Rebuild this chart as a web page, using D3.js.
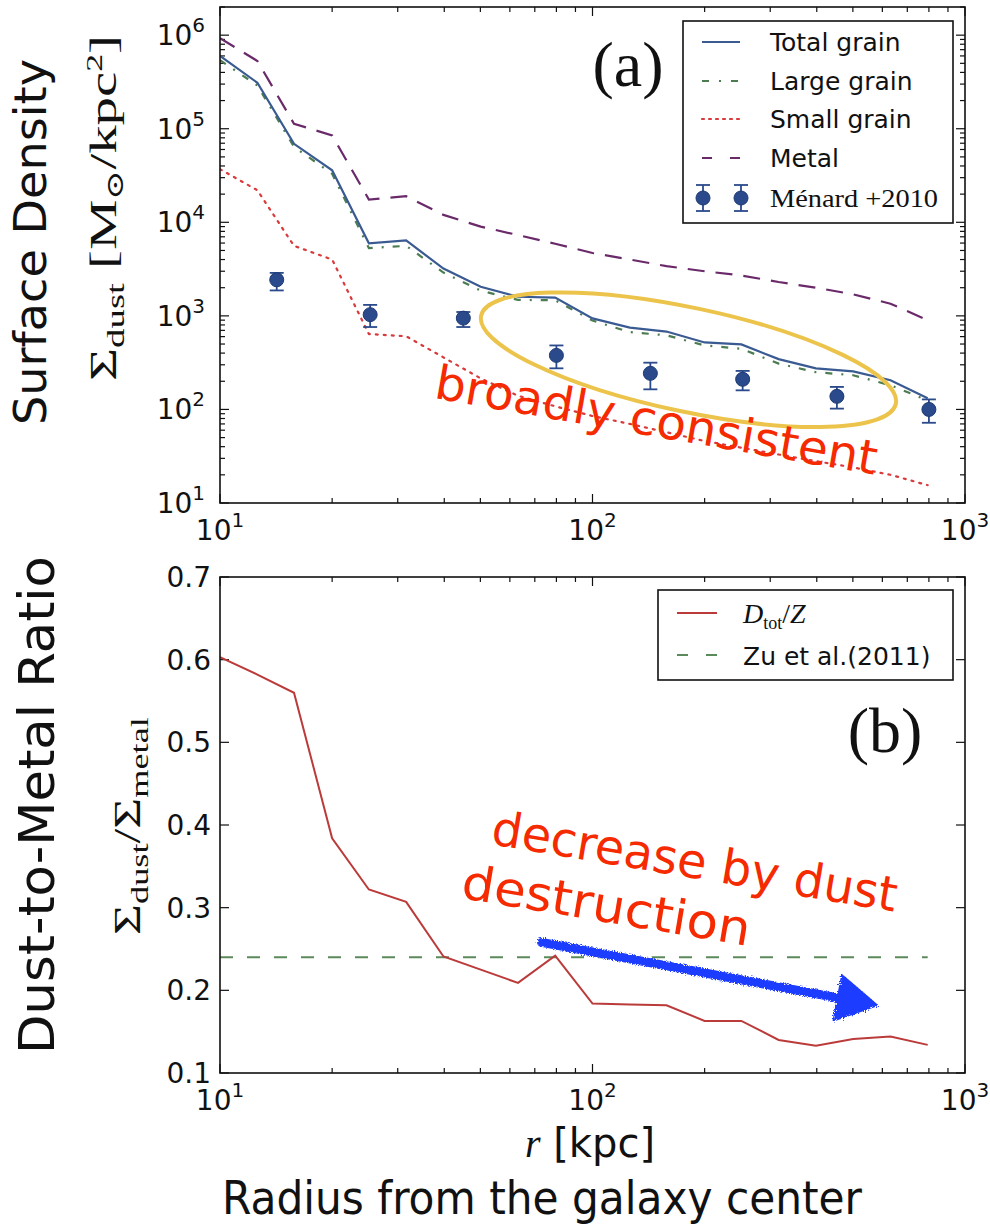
<!DOCTYPE html>
<html><head><meta charset="utf-8">
<script src="https://cdn.jsdelivr.net/npm/d3@7"></script>
<style>body{margin:0;background:#fff} svg{display:block}</style>
</head><body>
<svg id="c" width="990" height="1229"></svg>
<script>
// ---------------- data ----------------
const radius = [10, 12.6, 15.8, 20, 25.1, 31.6, 39.8, 50.1, 63.1, 79.4, 100, 126, 158, 200, 251, 316, 398, 501, 631, 794];
const totalGrain = [6.0e5, 3.1e5, 6.9e4, 3.6e4, 5.96e3, 6.4e3, 3.2e3, 2.05e3, 1.6e3, 1.57e3, 940, 750, 680, 520, 495, 345, 275, 255, 205, 132];
const largeGrain = [5.4e5, 2.9e5, 6.4e4, 3.3e4, 5.3e3, 5.6e3, 2.9e3, 1.86e3, 1.48e3, 1.47e3, 890, 670, 620, 483, 445, 309, 250, 232, 181, 125];
const smallGrain = [3.7e4, 2.2e4, 5.6e3, 4.0e3, 640, 605, 360, 215, 140, 108, 85, 70, 57, 46, 39, 33, 28, 24, 20, 15.5];
const metal = [9.3e5, 5.3e5, 1.13e5, 8.5e4, 1.75e4, 1.9e4, 1.2e4, 9.0e3, 7.3e3, 5.9e3, 4.7e3, 4.0e3, 3.4e3, 3.0e3, 2.7e3, 2.3e3, 2.0e3, 1.7e3, 1.35e3, 900];
const menardR = [14.2, 25.3, 45, 80, 143, 253, 453, 800];
const menardVal = [2430, 1030, 946, 378, 243, 210, 138, 100];
const menardLo = [1870, 760, 760, 275, 164, 160, 102, 72];
const menardHi = [2880, 1310, 1100, 483, 316, 258, 174, 128];
const dustToMetal = [0.603, 0.582, 0.56, 0.384, 0.322, 0.307, 0.241, 0.225, 0.209, 0.242, 0.184, 0.183, 0.182, 0.163, 0.163, 0.14, 0.133, 0.141, 0.144, 0.134];
const zuRatio = 0.24;
const legendA = ["Total grain", "Large grain", "Small grain", "Metal", "Ménard +2010"];
const legendB = ["Zu et al.(2011)"];
const yTicksB = [0.1, 0.2, 0.3, 0.4, 0.5, 0.6, 0.7];

// ---------------- setup ----------------
const svg = d3.select('#c');
const X0 = 220, X1 = 965;
const A_TOP = 7, A_BOT = 503, B_TOP = 577, B_BOT = 1073;
const x = d3.scaleLog().domain([10, 1000]).range([X0, X1]);
const yA = d3.scaleLog().domain([10, 2e6]).range([A_BOT, A_TOP]);
const yB = d3.scaleLinear().domain([0.1, 0.7]).range([B_BOT, B_TOP]);

const SANS = "'DejaVu Sans', Verdana, sans-serif";
const SERIF = "'Liberation Serif', 'DejaVu Serif', serif";
const C = {total:'#3a5a92', large:'#4c7c50', small:'#d93a3c', metal:'#6a2a6a', menard:'#2a4a8c',
           dz:'#bb3a3a', zu:'#5b8a5b', red:'#f52a00', yellow:'#ecc44c', arrow:'#1e3cff', ink:'#111'};

const defs = svg.append('defs');
const f = defs.append('filter').attr('id','rough').attr('x','-10%').attr('y','-40%').attr('width','120%').attr('height','180%');
f.append('feTurbulence').attr('type','fractalNoise').attr('baseFrequency',0.9).attr('numOctaves',2).attr('result','n');
f.append('feDisplacementMap').attr('in','SourceGraphic').attr('in2','n').attr('scale',6);
['clipA','clipB'].forEach((id,i)=>{
  defs.append('clipPath').attr('id',id).append('rect').attr('x',X0).attr('y',i?B_TOP:A_TOP)
    .attr('width',X1-X0).attr('height',i?B_BOT-B_TOP:A_BOT-A_TOP);
});

const isMajor = v => Math.abs(Math.log10(v) - Math.round(Math.log10(v))) < 1e-9;
const MAJ = 9, MIN = 5;
const TFS = 28, SFS = 20;

function xTicks(top, bot){
  const g = svg.append('g').attr('stroke', C.ink).attr('stroke-width', 1.2);
  const t = x.ticks();
  g.selectAll('.b').data(t).join('line').attr('x1', d=>x(d)).attr('x2', d=>x(d))
    .attr('y1', bot).attr('y2', d=>bot-(isMajor(d)?MAJ:MIN));
  g.selectAll('.t').data(t).join('line').attr('x1', d=>x(d)).attr('x2', d=>x(d))
    .attr('y1', top).attr('y2', d=>top+(isMajor(d)?MAJ:MIN));
  const lab = svg.append('g').attr('font-family', SANS).attr('fill', C.ink);
  t.filter(isMajor).forEach(v=>{
    const tx = lab.append('text').attr('x', x(v)).attr('y', bot+37).attr('text-anchor','middle').attr('font-size',TFS);
    tx.append('tspan').text('10');
    tx.append('tspan').attr('font-size',SFS).attr('dy',-13).text(Math.round(Math.log10(v)));
  });
}
function frame(top, bot){
  svg.append('rect').attr('x',X0).attr('y',top).attr('width',X1-X0).attr('height',bot-top)
    .attr('fill','none').attr('stroke',C.ink).attr('stroke-width',1.6);
}

// ---------------- panel (a) ----------------
{
  const g = svg.append('g').attr('stroke', C.ink).attr('stroke-width', 1.2);
  const t = yA.ticks();
  g.selectAll('.l').data(t).join('line').attr('x1', X0).attr('x2', d=>X0+(isMajor(d)?MAJ:MIN)).attr('y1', d=>yA(d)).attr('y2', d=>yA(d));
  g.selectAll('.r').data(t).join('line').attr('x1', X1).attr('x2', d=>X1-(isMajor(d)?MAJ:MIN)).attr('y1', d=>yA(d)).attr('y2', d=>yA(d));
  const lab = svg.append('g').attr('font-family', SANS).attr('fill', C.ink);
  t.filter(isMajor).forEach(v=>{
    const tx = lab.append('text').attr('x', 205).attr('y', yA(v)+10).attr('text-anchor','end').attr('font-size',TFS);
    tx.append('tspan').text('10');
    tx.append('tspan').attr('font-size',SFS).attr('dy',-13).text(Math.round(Math.log10(v)));
  });
  xTicks(A_TOP, A_BOT);

  const series = [
    {v: metal, c: C.metal, dash: '17,11', w: 2.2},
    {v: smallGrain, c: C.small, dash: '2,6', w: 2.2},
    {v: largeGrain, c: C.large, dash: '7,9,2,9', w: 2.2},
    {v: totalGrain, c: C.total, dash: null, w: 2.2},
  ];
  const line = d3.line().x(d=>x(d[0])).y(d=>yA(d[1]));
  const pg = svg.append('g').attr('clip-path','url(#clipA)');
  series.forEach(s=>{
    pg.append('path').attr('d', line(radius.map((r,i)=>[r, s.v[i]]))).attr('fill','none')
      .attr('stroke', s.c).attr('stroke-width', s.w).attr('stroke-dasharray', s.dash)
      .attr('stroke-linecap', s.dash==='2,6' ? 'round' : 'butt');
  });
  // Ménard points
  const mg = svg.append('g').attr('stroke', C.menard).attr('stroke-width', 1.8);
  menardR.forEach((r,i)=>{
    const cx = x(r);
    mg.append('line').attr('x1',cx).attr('x2',cx).attr('y1',yA(menardLo[i])).attr('y2',yA(menardHi[i]));
    [menardLo[i], menardHi[i]].forEach(v=> mg.append('line').attr('x1',cx-7).attr('x2',cx+7).attr('y1',yA(v)).attr('y2',yA(v)));
    mg.append('circle').attr('cx',cx).attr('cy',yA(menardVal[i])).attr('r',7).attr('fill',C.menard).attr('stroke','#1d3a72').attr('stroke-width',1);
  });
  frame(A_TOP, A_BOT);

  // annotations
  const ecx = x(181), ecy = yA(340);
  svg.append('ellipse').attr('cx',ecx).attr('cy',ecy).attr('rx',212).attr('ry',52)
    .attr('transform',`rotate(12,${ecx},${ecy})`).attr('fill','none').attr('stroke',C.yellow).attr('stroke-width',4);
  const bx = x(37.3), by = yA(133);
  svg.append('text').attr('transform',`translate(${bx},${by}) rotate(9.9)`).attr('font-family',SANS)
    .attr('font-size',47).attr('fill',C.red).attr('textLength',448).attr('lengthAdjust','spacingAndGlyphs').text('broadly consistent');
  svg.append('text').attr('x',628).attr('y',86).attr('text-anchor','middle').attr('font-family',SERIF)
    .attr('font-size',64).attr('fill',C.ink).text('(a)');

  // legend (a)
  const L = svg.append('g');
  L.append('rect').attr('x',683).attr('y',21).attr('width',270).attr('height',202).attr('fill','#fff').attr('stroke',C.ink).attr('stroke-width',1.6);
  const rows = [42, 81, 119, 158, 198];
  const sty = [[C.total,null],[C.large,'7,10,2,10'],[C.small,'2,5'],[C.metal,'10,18']];
  sty.forEach((s,i)=>{
    L.append('line').attr('x1',702).attr('x2',740).attr('y1',rows[i]).attr('y2',rows[i]).attr('stroke',s[0])
      .attr('stroke-width',2.2).attr('stroke-dasharray',s[1]).attr('stroke-linecap', i===2?'round':'butt');
    L.append('text').attr('x',770).attr('y',rows[i]+9).attr('font-family',SANS).attr('font-size',25).attr('fill',C.ink).text(legendA[i]);
  });
  [703, 741].forEach(cx=>{
    const yy = rows[4];
    const gg = L.append('g').attr('stroke',C.menard).attr('stroke-width',1.8);
    gg.append('line').attr('x1',cx).attr('x2',cx).attr('y1',yy-13).attr('y2',yy+13);
    gg.append('line').attr('x1',cx-7).attr('x2',cx+7).attr('y1',yy-13).attr('y2',yy-13);
    gg.append('line').attr('x1',cx-7).attr('x2',cx+7).attr('y1',yy+13).attr('y2',yy+13);
    gg.append('circle').attr('cx',cx).attr('cy',yy).attr('r',7).attr('fill',C.menard).attr('stroke','#1d3a72').attr('stroke-width',1);
  });
  L.append('text').attr('x',770).attr('y',rows[4]+9).attr('font-family',SERIF).attr('font-size',26).attr('fill',C.ink)
    .attr('textLength',168).attr('lengthAdjust','spacingAndGlyphs').text(legendA[4]);
}

// ---------------- panel (b) ----------------
{
  const g = svg.append('g').attr('stroke', C.ink).attr('stroke-width', 1.2);
  g.selectAll('.l').data(yTicksB).join('line').attr('x1', X0).attr('x2', X0+MAJ).attr('y1', d=>yB(d)).attr('y2', d=>yB(d));
  g.selectAll('.r').data(yTicksB).join('line').attr('x1', X1).attr('x2', X1-MAJ).attr('y1', d=>yB(d)).attr('y2', d=>yB(d));
  svg.append('g').attr('font-family', SANS).attr('fill', C.ink).selectAll('text').data(yTicksB).join('text')
    .attr('x', 211).attr('y', d=>yB(d)+10).attr('text-anchor','end').attr('font-size',TFS).text(d=>d.toFixed(1));
  xTicks(B_TOP, B_BOT);

  const pg = svg.append('g').attr('clip-path','url(#clipB)');
  pg.append('line').attr('x1', X0).attr('x2', x(radius[radius.length-1])).attr('y1', yB(zuRatio)).attr('y2', yB(zuRatio))
    .attr('stroke', C.zu).attr('stroke-width', 2).attr('stroke-dasharray','13,14');
  const line = d3.line().x(d=>x(d[0])).y(d=>yB(d[1]));
  pg.append('path').attr('d', line(radius.map((r,i)=>[r, dustToMetal[i]]))).attr('fill','none')
    .attr('stroke', C.dz).attr('stroke-width', 2);
  frame(B_TOP, B_BOT);

  // legend (b)
  const L = svg.append('g');
  L.append('rect').attr('x',658).attr('y',590).attr('width',295).attr('height',90).attr('fill','#fff').attr('stroke',C.ink).attr('stroke-width',1.6);
  L.append('line').attr('x1',677).attr('x2',717).attr('y1',613).attr('y2',613).attr('stroke',C.dz).attr('stroke-width',2);
  L.append('line').attr('x1',677).attr('x2',717).attr('y1',655).attr('y2',655).attr('stroke',C.zu).attr('stroke-width',2).attr('stroke-dasharray','11,18');
  const t1 = L.append('text').attr('x',743).attr('y',623).attr('font-family',SERIF).attr('font-size',28).attr('fill',C.ink);
  t1.append('tspan').attr('font-style','italic').text('D');
  t1.append('tspan').attr('font-size',18).attr('dy',6).text('tot');
  t1.append('tspan').attr('dy',-6).text('/');
  t1.append('tspan').attr('font-style','italic').text('Z');
  L.append('text').attr('x',743).attr('y',665).attr('font-family',SANS).attr('font-size',25).attr('fill',C.ink).text(legendB[0]);

  svg.append('text').attr('x',885).attr('y',752).attr('text-anchor','middle').attr('font-family',SERIF)
    .attr('font-size',64).attr('fill',C.ink).text('(b)');

  // annotation text
  const a1 = [x(53), yB(0.377)], a2 = [x(44), yB(0.312)];
  svg.append('text').attr('transform',`translate(${a1[0]},${a1[1]}) rotate(9.5)`).attr('font-family',SANS)
    .attr('font-size',48).attr('fill',C.red).attr('textLength',410).attr('lengthAdjust','spacingAndGlyphs').text('decrease by dust');
  svg.append('text').attr('transform',`translate(${a2[0]},${a2[1]}) rotate(9.5)`).attr('font-family',SANS)
    .attr('font-size',48).attr('fill',C.red).attr('textLength',292).attr('lengthAdjust','spacingAndGlyphs').text('destruction');

  // blue arrow
  const p0 = [x(73), yB(0.258)], p1 = [x(581), yB(0.182)];
  const dx = p1[0]-p0[0], dy = p1[1]-p0[1], len = Math.hypot(dx,dy), ux = dx/len, uy = dy/len;
  const hl = 40, hw = 23;
  const base = [p1[0]-ux*hl, p1[1]-uy*hl];
  const ag = svg.append('g').attr('filter','url(#rough)').attr('fill',C.arrow).attr('stroke',C.arrow);
  ag.append('line').attr('x1',p0[0]).attr('y1',p0[1]).attr('x2',base[0]+ux*4).attr('y2',base[1]+uy*4).attr('stroke-width',9).attr('stroke-linecap','round');
  ag.append('path').attr('stroke-width',2).attr('stroke-linejoin','round')
    .attr('d',`M${p1[0]},${p1[1]} L${base[0]-uy*hw},${base[1]+ux*hw} L${base[0]+uy*hw},${base[1]-ux*hw} Z`);
}

// ---------------- axis titles ----------------
function rotLabel(cx, cy, target, build){
  const g = svg.append('g').attr('transform',`translate(${cx},${cy}) rotate(-90)`);
  const t = g.append('text').attr('text-anchor','middle').attr('fill',C.ink);
  build(t);
  const w = t.node().getBBox().width;
  if (target) t.attr('transform',`scale(${target/w},1)`);
  return t;
}
rotLabel(46, 242, 366, t=>t.attr('font-family',SANS).attr('font-size',44).text('Surface Density'));
rotLabel(54, 805, 498, t=>t.attr('font-family',SANS).attr('font-size',50).text('Dust-to-Metal Ratio'));
rotLabel(116, 208, 346, t=>{
  t.attr('font-family',SERIF).attr('font-size',38);
  t.append('tspan').text('Σ');
  t.append('tspan').attr('font-size',26).attr('dy',8).text('dust');
  t.append('tspan').attr('dy',-8).text(' [M');
  t.append('tspan').attr('font-size',24).attr('dy',7).text('⊙');
  t.append('tspan').attr('dy',-7).text('/kpc');
  t.append('tspan').attr('font-size',24).attr('dy',-14).text('2');
  t.append('tspan').attr('dy',14).text(']');
});
rotLabel(140, 826, 218, t=>{
  t.attr('font-family',SERIF).attr('font-size',38);
  t.append('tspan').text('Σ');
  t.append('tspan').attr('font-size',26).attr('dy',8).text('dust');
  t.append('tspan').attr('dy',-8).text('/Σ');
  t.append('tspan').attr('font-size',26).attr('dy',8).text('metal');
});
{
  const t = svg.append('text').attr('x',590).attr('y',1157).attr('text-anchor','middle').attr('fill',C.ink).attr('font-size',40);
  t.append('tspan').attr('font-family',SERIF).attr('font-style','italic').text('r');
  t.append('tspan').attr('font-family',SANS).text(' [kpc]');
  svg.append('text').attr('x',222).attr('y',1214).attr('font-family',SANS).attr('font-size',46).attr('fill',C.ink)
    .attr('textLength',640).attr('lengthAdjust','spacingAndGlyphs')
    .text('Radius from the galaxy center');
}
</script>
</body></html>
